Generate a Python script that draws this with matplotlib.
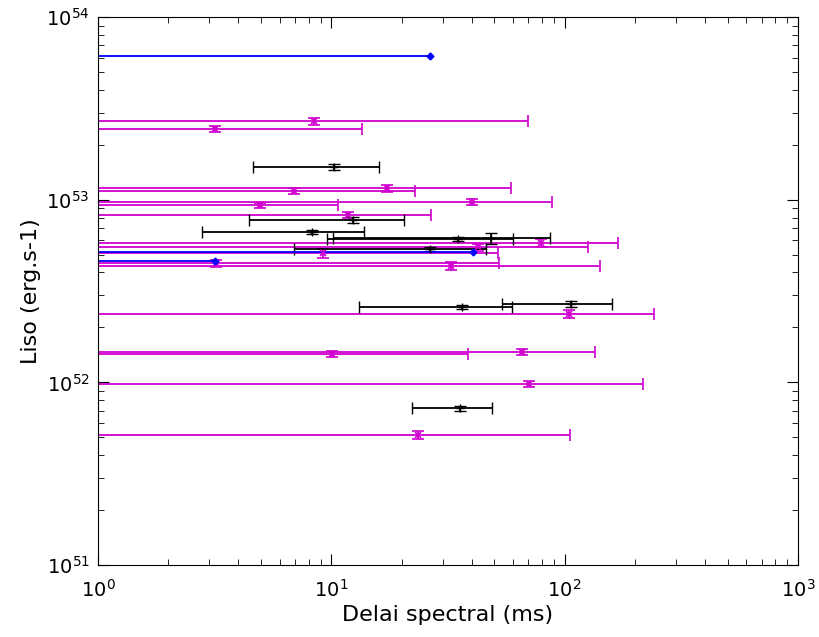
import matplotlib
matplotlib.use('Agg')
import matplotlib.pyplot as plt

# Values (x: spectral lag in ms, y: Liso in erg/s)
# Magenta series - symmetric x errors, most run past the left edge
mag_x = [8.43, 3.17, 17.3, 6.92, 40.1, 4.95, 11.8, 79.2, 42.5, 9.26, 3.2,
         32.6, 104.3, 65.5, 10.1, 70.2, 23.5]
mag_xerr = [61.3, 10.4, 41.6, 15.9, 48.2, 5.7, 15.0, 89.7, 83.5, 42.8, 48.9,
            109.0, 138.0, 69.4, 28.3, 146.0, 82.0]
mag_y = [2.70e53, 2.44e53, 1.16e53, 1.12e53, 9.71e52, 9.35e52, 8.25e52,
         5.79e52, 5.51e52, 5.11e52, 4.50e52, 4.34e52, 2.36e52, 1.47e52,
         1.43e52, 9.8e51, 5.15e51]
mag_yerr = [1.2e52, 0.9e52, 0.5e52, 0.4e52, 0.4e52, 0.3e52, 0.35e52, 0.3e52,
            0.25e52, 0.3e52, 0.2e52, 0.2e52, 0.12e52, 0.06e52, 0.05e52,
            0.04e52, 0.025e52]

# Black series
blk_x = [10.3, 12.45, 8.28, 35.0, 48.6, 26.4, 36.5, 107.0, 35.6]
blk_xerr = [5.7, 8.0, 5.5, 25.4, 38.4, 19.5, 23.3, 53.0, 13.4]
blk_y = [1.51e53, 7.74e52, 6.66e52, 6.08e52, 6.15e52, 5.37e52, 2.59e52,
         2.69e52, 7.21e51]
blk_yerr = [0.6e52, 0.3e52, 0.2e52, 0.15e52, 0.45e52, 0.15e52, 0.08e52,
            0.1e52, 0.02e52]

# Blue series - only a lower x error
blu_x = [26.6, 40.7, 3.16]
blu_xerr_lo = [30.0, 45.0, 4.0]
blu_xerr_hi = [0.0, 0.0, 0.0]
blu_y = [6.12e53, 5.17e52, 4.62e52]

plt.rcParams['mathtext.fontset'] = 'dejavusans'
plt.rcParams['font.family'] = ['DejaVu Sans']

fig = plt.figure(figsize=(8.2, 6.37), dpi=100)
ax = fig.add_axes([0.1195, 0.113, 0.8535, 0.860])
ax.set_xscale('log', nonpositive='clip')
ax.set_yscale('log', nonpositive='clip')

ax.errorbar(mag_x, mag_y, xerr=mag_xerr, yerr=mag_yerr, fmt='x',
            color='#d000d0', ecolor='#d000d0', ms=4, mew=1.2,
            elinewidth=1.3, capsize=4, capthick=1)
ax.errorbar(blk_x, blk_y, xerr=blk_xerr, yerr=blk_yerr, fmt='+',
            color='black', ecolor='black', ms=6, mew=1,
            elinewidth=1.3, capsize=4, capthick=1)
ax.errorbar(blu_x, blu_y, xerr=[blu_xerr_lo, blu_xerr_hi], fmt='D',
            color='#0000ff', ecolor='#0000ff', ms=3.5,
            elinewidth=1.3, capsize=0)

ax.set_xlim(1, 1000)
ax.set_ylim(1e51, 1e54)

ax.tick_params(which='both', direction='in', top=True, right=True)
ax.tick_params(which='major', length=8, labelsize=14)
ax.tick_params(axis='x', which='major', pad=10)
ax.tick_params(axis='y', which='major', pad=6)
ax.tick_params(which='minor', length=4)

ax.set_xlabel('Delai spectral (ms)', fontsize=16, labelpad=3)
ax.set_ylabel('Liso (erg.s-1)', fontsize=16)

fig.savefig('out.png', dpi=100)
